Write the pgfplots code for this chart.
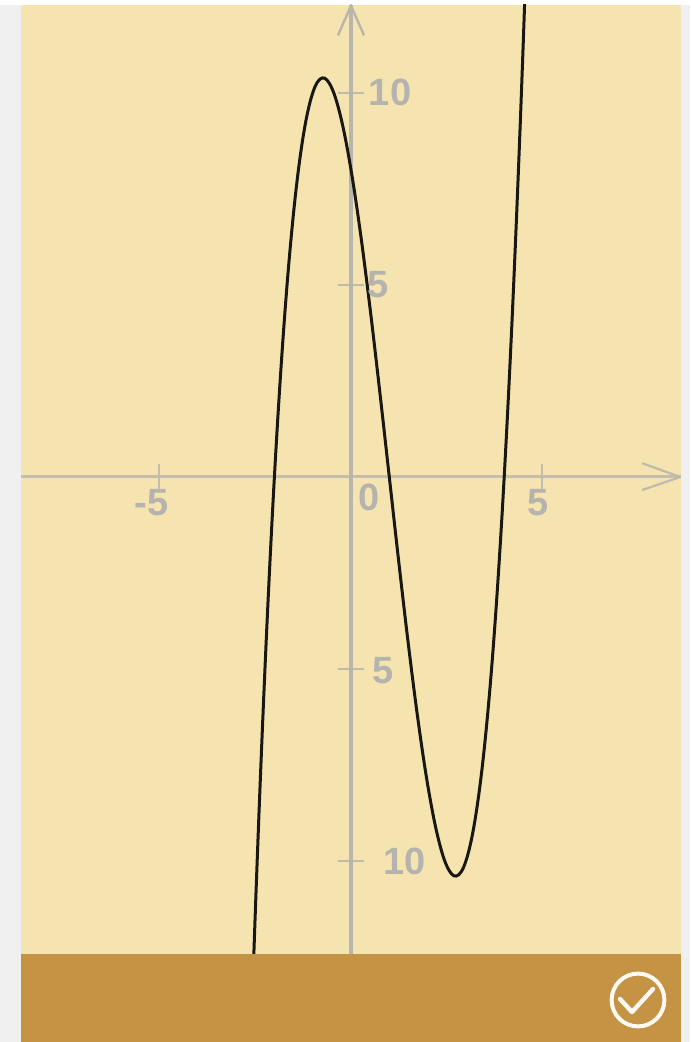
\documentclass[border=0pt]{standalone}
\usepackage{fontspec}
\setmainfont{Liberation Sans}
\usepackage{pgfplots}
\pgfplotsset{compat=1.18}
\definecolor{panel}{HTML}{F6E4B0}
\definecolor{bar}{HTML}{C49343}
\definecolor{axisgray}{HTML}{B8B6AC}
\definecolor{labelgray}{HTML}{B4B3AE}
\definecolor{side}{HTML}{F0F0F0}
\begin{document}
\begin{tikzpicture}[x=1pt,y=1pt]
\useasboundingbox (0,0) rectangle (345,521);
\fill[white] (0,0) rectangle (345,521);
\fill[side] (0,0) rectangle (10.5,521);
\fill[side] (340.5,0) rectangle (345,521);
\fill[white] (0,518.5) rectangle (345,521);
\fill[bar] (10.5,0) rectangle (340.5,44);
\fill[panel] (10.5,44) rectangle (340.5,518.5);
% check icon
\draw[white!94!bar,line width=2pt] (319,21) circle (13.2);
\draw[white!94!bar,line width=2.2pt,line cap=round,line join=round] (310,21.5) -- (316,15) -- (326.5,26.5);
\begin{axis}[
  at={(10.5pt,44pt)}, anchor=south west,
  scale only axis, width=330pt, height=474.5pt,
  xmin=-8.616, xmax=8.616, ymin=-12.42, ymax=12.29,
  axis lines=center,
  axis line style={-},
  x axis line style={color=axisgray!80!panel,line width=1.5pt},
  y axis line style={color=axisgray,line width=2pt},
  xtick={-5,5}, ytick={-10,-5,5,10},
  xticklabels={}, yticklabels={},
  tick align=center,
  major tick length=13pt,
  xtick style={color=axisgray!80!panel,line width=1pt},
  ytick style={color=axisgray!90!panel,line width=1.2pt},
  clip=true,
]
\addplot[black!90!panel,line width=1.5pt,smooth,tension=0.6] coordinates {
(-2.75,-18.98)(-2.5,-11.375)(-2.25,-5.078)(-2,0)(-1.75,3.953)(-1.5,6.875)(-1.25,8.859)(-1,10)
(-0.75,10.391)(-0.5,10.125)(-0.25,9.297)(0,8)(0.25,6.328)(0.5,4.375)(0.75,2.234)(1,0)
(1.25,-2.234)(1.5,-4.375)(1.75,-6.328)(2,-8)(2.25,-9.297)(2.5,-10.125)(2.75,-10.391)(3,-10)
(3.25,-8.859)(3.5,-6.875)(3.75,-3.953)(4,0)(4.25,5.078)(4.5,11.375)(4.75,18.98)};
\draw[axisgray,line width=1.2pt] (axis cs:-0.34,11.5) -- (axis cs:0,12.27) -- (axis cs:0.34,11.5);
\draw[axisgray!90!panel,line width=1.1pt] (axis cs:7.6,0.36) -- (axis cs:8.6,0) -- (axis cs:7.6,-0.34);
\begin{scope}[every node/.style={text=labelgray,font=\fontsize{19}{19}\selectfont\bfseries,inner sep=0pt}]
\node at (axis cs:-5.2,-0.68) {-5};
\node at (axis cs:4.88,-0.68) {5};
\node at (axis cs:0.47,-0.52) {0};
\node at (axis cs:1.02,10.01) {10};
\node at (axis cs:0.71,5) {5};
\node at (axis cs:0.84,-5.03) {5};
\node at (axis cs:1.39,-10) {10};
\end{scope}
\end{axis}
\end{tikzpicture}
\end{document}
